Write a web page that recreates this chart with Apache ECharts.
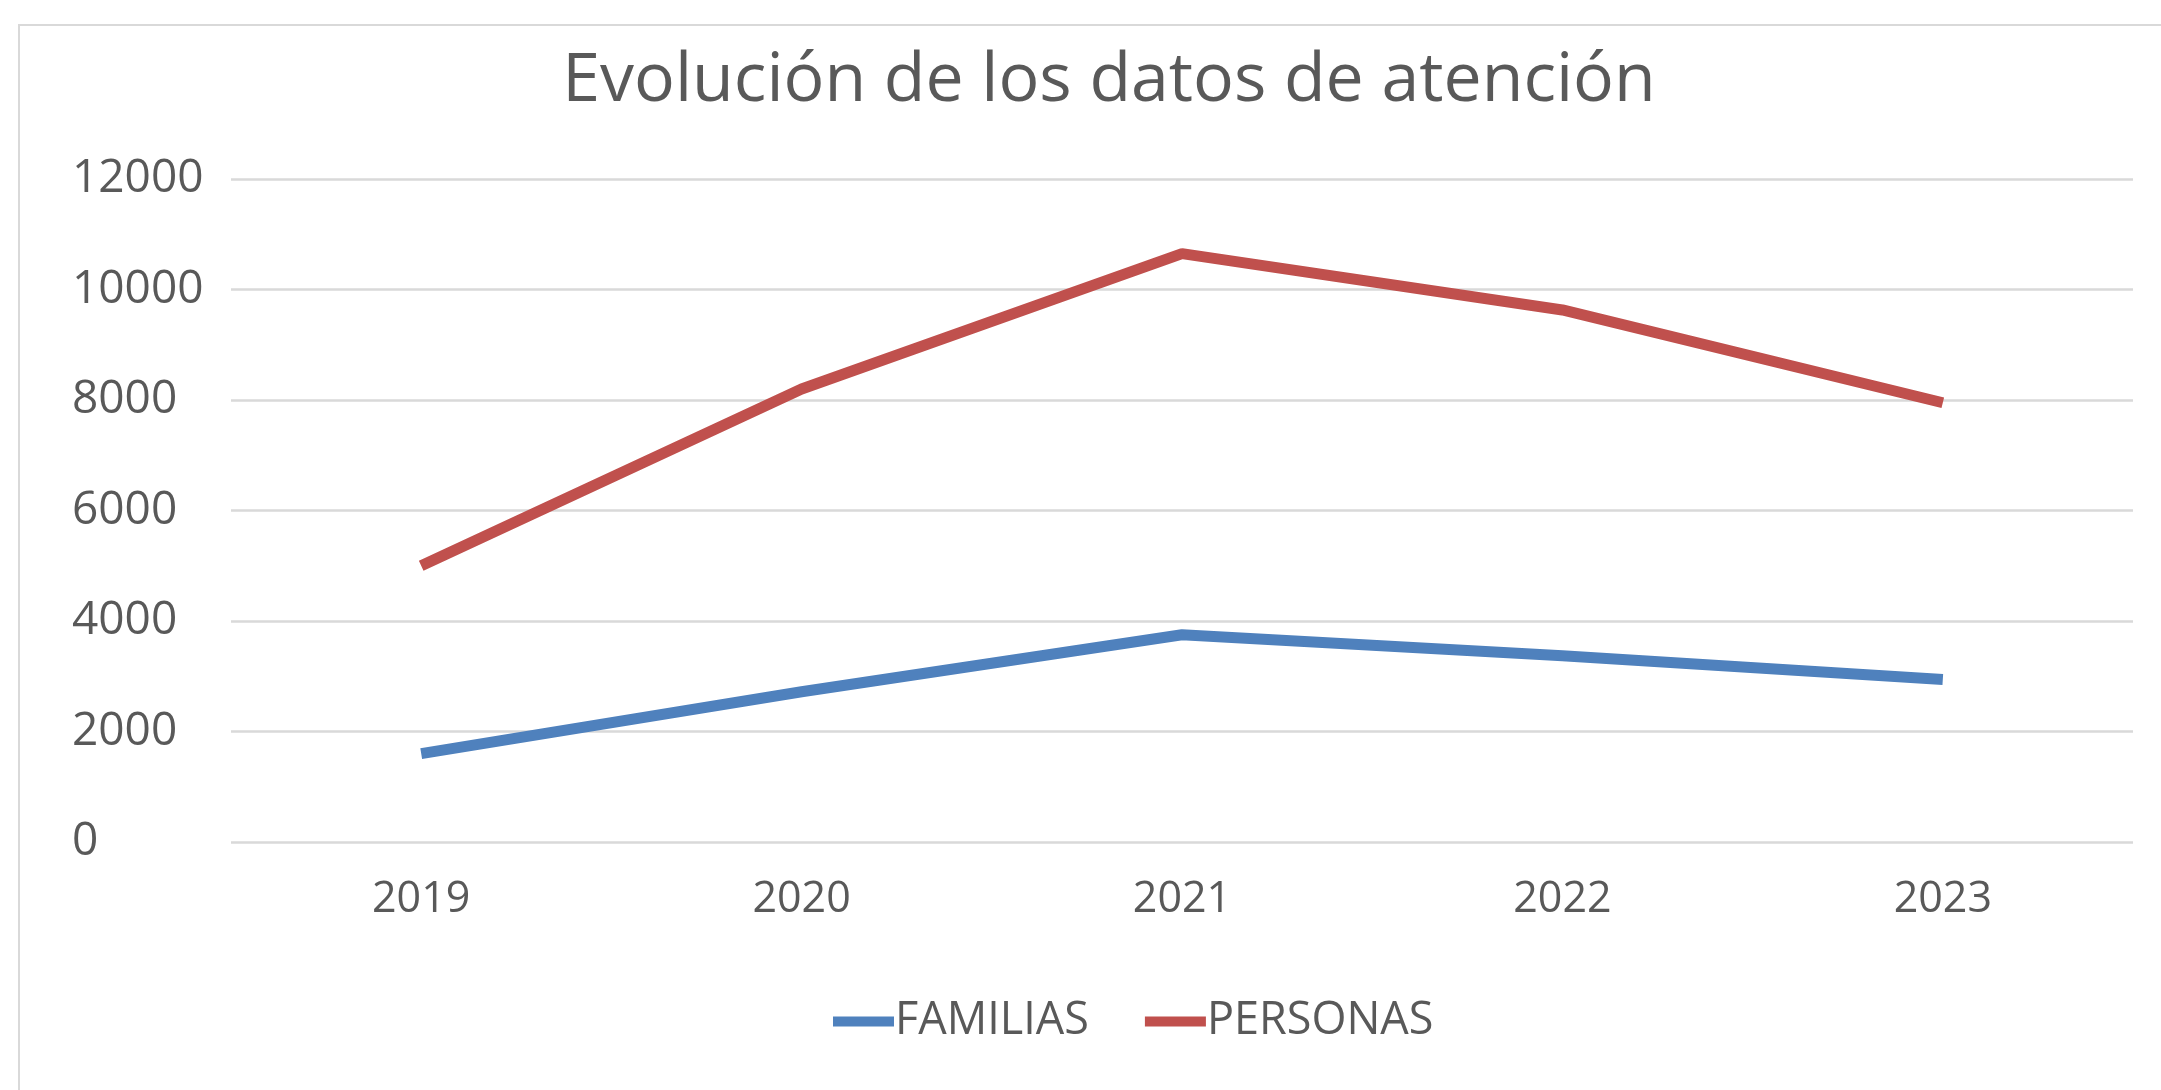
<!DOCTYPE html>
<html>
<head>
<meta charset="utf-8">
<script src="https://cdn.jsdelivr.net/npm/echarts@6/dist/echarts.min.js"></script>
<style>
  html, body { margin: 0; padding: 0; background: #fff; }
  #chart { width: 2161px; height: 1090px; }
</style>
</head>
<body>
<div id="chart"></div>
<script>
const years = ['2019', '2020', '2021', '2022', '2023'];
const familias = [1600, 2720, 3750, 3370, 2940];
const personas = [5000, 8200, 10650, 9630, 7950];
const yTicks = [0, 2000, 4000, 6000, 8000, 10000, 12000];

const TEXT = '#595959';
const FONT = 'Open Sans';

const chart = echarts.init(document.getElementById('chart'), null, { renderer: 'canvas' });
chart.setOption({
  backgroundColor: '#fff',
  animation: false,
  textStyle: { fontFamily: FONT, color: TEXT },
  graphic: [{
    type: 'rect',
    shape: { x: 19, y: 25, width: 2200, height: 1100 },
    style: { fill: 'none', stroke: '#d9d9d9', lineWidth: 2 },
    silent: true
  }],
  title: {
    text: 'Evolución de los datos de atención',
    left: 1104,
    textAlign: 'center',
    top: 43,
    textStyle: { fontFamily: FONT, fontSize: 68, fontWeight: 'normal', color: TEXT }
  },
  legend: {
    left: 828,
    top: 994,
    itemWidth: 61,
    itemHeight: 10,
    itemGap: 56,
    icon: 'rect',
    textStyle: { fontFamily: FONT, fontSize: 45, color: TEXT, padding: [0, 0, 0, -4] },
    data: ['FAMILIAS', 'PERSONAS']
  },
  grid: { left: 231, right: 28, top: 179, bottom: 248 },
  xAxis: {
    type: 'category',
    data: years,
    boundaryGap: true,
    axisLine: { show: false },
    axisTick: { show: false },
    axisLabel: { fontFamily: FONT, fontSize: 43, color: TEXT, margin: 36 }
  },
  yAxis: {
    type: 'value',
    min: yTicks[0],
    max: yTicks[yTicks.length - 1],
    interval: 2000,
    axisLine: { show: false },
    axisTick: { show: false },
    splitLine: { lineStyle: { color: '#d9d9d9', width: 2.5 } },
    axisLabel: {
      fontFamily: FONT, fontSize: 46, color: TEXT, align: 'left', margin: 159,
      formatter: v => String(v)
    }
  },
  series: [
    {
      name: 'FAMILIAS',
      type: 'line',
      data: familias,
      symbol: 'none',
      color: '#4F81BD',
      lineStyle: { width: 11, color: '#4F81BD' }
    },
    {
      name: 'PERSONAS',
      type: 'line',
      data: personas,
      symbol: 'none',
      color: '#C0504D',
      lineStyle: { width: 11, color: '#C0504D' }
    }
  ]
});
</script>
</body>
</html>
